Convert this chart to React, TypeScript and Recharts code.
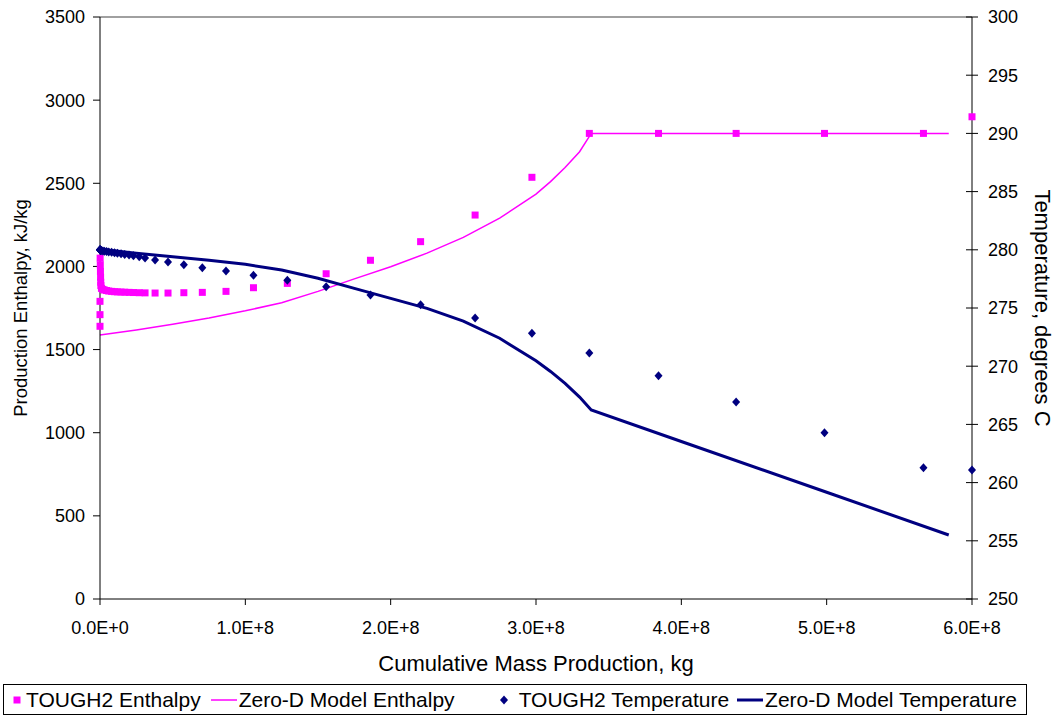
import { ComposedChart, Scatter, Line, XAxis, YAxis, ReferenceLine } from "recharts";

// TOUGH2 simulation output: cumulative mass (kg), enthalpy (kJ/kg), temperature (°C)
const toughMass = [
  0, 0, 0, 1e5, 2e5, 3e5, 4e5, 5e5, 6e5,
  1e6, 2e6, 3e6, 4.5e6, 6e6, 8e6,
  1.0e7, 1.2e7, 1.45e7, 1.7e7, 2.0e7, 2.3e7, 2.7e7, 3.1e7,
  3.79e7, 4.68e7, 5.77e7, 7.04e7, 8.67e7,
  1.056e8, 1.289e8, 1.556e8, 1.861e8, 2.206e8, 2.581e8, 2.972e8, 3.367e8, 3.843e8, 4.377e8, 4.985e8, 5.666e8, 6.0e8,
];
const toughEnthalpy = [
  1640, 1710, 1790, 2050, 2010, 1970, 1935, 1905, 1885,
  1868, 1862, 1858, 1855, 1852, 1850,
  1848, 1847, 1846, 1845, 1844, 1843, 1842, 1841,
  1840, 1840, 1842, 1844, 1850,
  1872, 1898, 1956, 2037, 2149, 2309, 2536, 2800, 2800, 2800, 2800, 2800, 2900,
];
const toughTemperature = [
  280.0, 280.0, 280.0, 280.0, 279.98, 279.97, 279.96, 279.95, 279.94,
  279.93, 279.9, 279.88, 279.85, 279.82, 279.78,
  279.74, 279.7, 279.65, 279.6, 279.55, 279.49, 279.4, 279.3,
  279.12, 278.95, 278.72, 278.46, 278.18,
  277.81, 277.38, 276.83, 276.12, 275.28, 274.14, 272.83, 271.13, 269.19, 266.92, 264.29, 261.28, 261.08,
];

// Zero-D lumped model
const modelMass = [
  0, 2.5e7, 5e7, 7.5e7, 1e8, 1.25e8, 1.5e8, 1.75e8, 2e8, 2.25e8, 2.5e8, 2.75e8, 3e8, 3.1e8, 3.2e8, 3.3e8, 3.38e8,
  4e8, 5e8, 5.84e8,
];
const modelEnthalpy = [
  1587, 1618, 1652, 1690, 1733, 1782, 1850, 1925, 1998, 2080, 2175, 2290, 2435, 2510, 2595, 2690, 2800,
  2800, 2800, 2800,
];
const modelTemperature = [
  280.04, 279.7, 279.41, 279.1, 278.75, 278.26, 277.55, 276.69, 275.83, 274.97, 273.88, 272.4, 270.47, 269.55, 268.53, 267.35, 266.24,
  263.53, 259.17, 255.5,
];

const massTicks = [0, 1e8, 2e8, 3e8, 4e8, 5e8, 6e8];
const enthalpyTicks = [0, 500, 1000, 1500, 2000, 2500, 3000, 3500];
const temperatureTicks = [250, 255, 260, 265, 270, 275, 280, 285, 290, 295, 300];

const FONT = "'Liberation Sans', Arial, sans-serif";
const MAGENTA = "#FF00FF";
const NAVY = "#000080";

const pairs = (xs: number[], ys: number[]) => xs.map((x, i) => ({ x, y: ys[i] }));

const toughEnthalpyData = pairs(toughMass, toughEnthalpy);
const toughTemperatureData = pairs(toughMass, toughTemperature);
const modelEnthalpyData = pairs(modelMass, modelEnthalpy);
const modelTemperatureData = pairs(modelMass, modelTemperature);

const sci = (v: number) => {
  if (v === 0) return "0.0E+0";
  const exp = Math.floor(Math.log10(v));
  return `${(v / Math.pow(10, exp)).toFixed(1)}E+${exp}`;
};

const Square = (props: any) => {
  const { cx, cy } = props;
  return <rect x={cx - 3.5} y={cy - 3.5} width={7} height={7} fill={MAGENTA} />;
};

const Diamond = (props: any) => {
  const { cx, cy } = props;
  return (
    <polygon
      points={`${cx},${cy - 4.5} ${cx + 4},${cy} ${cx},${cy + 4.5} ${cx - 4},${cy}`}
      fill={NAVY}
    />
  );
};

// right axis ticks cross the axis line
const RightTick = (props: any) => {
  const { x, y, payload } = props;
  const axisX = x - 16;
  return (
    <g>
      <line x1={axisX - 6} y1={y} x2={axisX + 6} y2={y} stroke="#000" />
      <text x={x} y={y} dy="0.355em" fontSize={18} fontFamily={FONT} fill="#000">
        {payload.value}
      </text>
    </g>
  );
};

const ChartLegend = () => (
  <div
    style={{
      position: "absolute",
      left: 3,
      top: 684,
      width: 1024,
      height: 31,
      boxSizing: "border-box",
      border: "1px solid #000",
      display: "flex",
      alignItems: "center",
      fontFamily: FONT,
      fontSize: 21,
      color: "#000",
      whiteSpace: "nowrap",
      paddingLeft: 6,
    }}
  >
    <svg width={14} height={14}>
      <rect x={3.5} y={3.5} width={7} height={7} fill={MAGENTA} />
    </svg>
    <span style={{ marginLeft: 2 }}>TOUGH2 Enthalpy</span>
    <svg width={26} height={14} style={{ marginLeft: 10 }}>
      <line x1={0} y1={7} x2={26} y2={7} stroke={MAGENTA} strokeWidth={1.5} />
    </svg>
    <span style={{ marginLeft: 2 }}>Zero-D Model Enthalpy</span>
    <svg width={14} height={14} style={{ marginLeft: 42 }}>
      <polygon points="7,2.5 11,7 7,11.5 3,7" fill={NAVY} />
    </svg>
    <span style={{ marginLeft: 8 }}>TOUGH2 Temperature</span>
    <svg width={26} height={14} style={{ marginLeft: 8 }}>
      <line x1={0} y1={7} x2={26} y2={7} stroke={NAVY} strokeWidth={3} />
    </svg>
    <span style={{ marginLeft: 2 }}>Zero-D Model Temperature</span>
  </div>
);

export default function App() {
  return (
    <div style={{ position: "absolute", left: 0, top: 0, width: 1059, height: 717, background: "#fff" }}>
      <ComposedChart
        width={1059}
        height={717}
        margin={{ top: 17, right: 0, bottom: 38, left: 20 }}
        style={{ fontFamily: FONT }}
      >
        <XAxis
          dataKey="x"
          type="number"
          domain={[0, 6e8]}
          ticks={massTicks}
          tickFormatter={sci}
          stroke="#000"
          tickSize={6}
          tickMargin={16}
          height={80}
          tick={{ fill: "#000", fontSize: 18 }}
          label={{
            value: "Cumulative Mass Production, kg",
            position: "insideBottom",
            offset: 8,
            fill: "#000",
            fontSize: 22,
          }}
        />
        <YAxis
          yAxisId="left"
          type="number"
          domain={[0, 3500]}
          ticks={enthalpyTicks}
          stroke="#000"
          tickSize={7}
          tickMargin={8}
          width={80}
          tick={{ fill: "#000", fontSize: 18 }}
          label={{
            value: "Production Enthalpy, kJ/kg",
            angle: -90,
            position: "insideLeft",
            offset: 0,
            fill: "#000",
            fontSize: 18.5,
            style: { textAnchor: "middle" },
          }}
        />
        <YAxis
          yAxisId="right"
          orientation="right"
          type="number"
          domain={[250, 300]}
          ticks={temperatureTicks}
          stroke="#000"
          tickLine={false}
          tickSize={6}
          tickMargin={10}
          width={87}
          tick={<RightTick />}
          label={{
            value: "Temperature, degrees C",
            angle: 90,
            position: "insideRight",
            offset: 16,
            fill: "#000",
            fontSize: 22,
            style: { textAnchor: "middle" },
          }}
        />
        <ReferenceLine yAxisId="left" y={3500} stroke="#808080" strokeWidth={1.5} />
        <Scatter
          name="TOUGH2 Enthalpy"
          yAxisId="left"
          data={toughEnthalpyData}
          dataKey="y"
          shape={<Square />}
          isAnimationActive={false}
        />
        <Line
          name="Zero-D Model Enthalpy"
          yAxisId="left"
          data={modelEnthalpyData}
          dataKey="y"
          type="linear"
          stroke={MAGENTA}
          strokeWidth={1.5}
          dot={false}
          activeDot={false}
          isAnimationActive={false}
        />
        <Scatter
          name="TOUGH2 Temperature"
          yAxisId="right"
          data={toughTemperatureData}
          dataKey="y"
          shape={<Diamond />}
          isAnimationActive={false}
        />
        <Line
          name="Zero-D Model Temperature"
          yAxisId="right"
          data={modelTemperatureData}
          dataKey="y"
          type="linear"
          stroke={NAVY}
          strokeWidth={3}
          dot={false}
          activeDot={false}
          isAnimationActive={false}
        />
      </ComposedChart>
      <ChartLegend />
    </div>
  );
}
